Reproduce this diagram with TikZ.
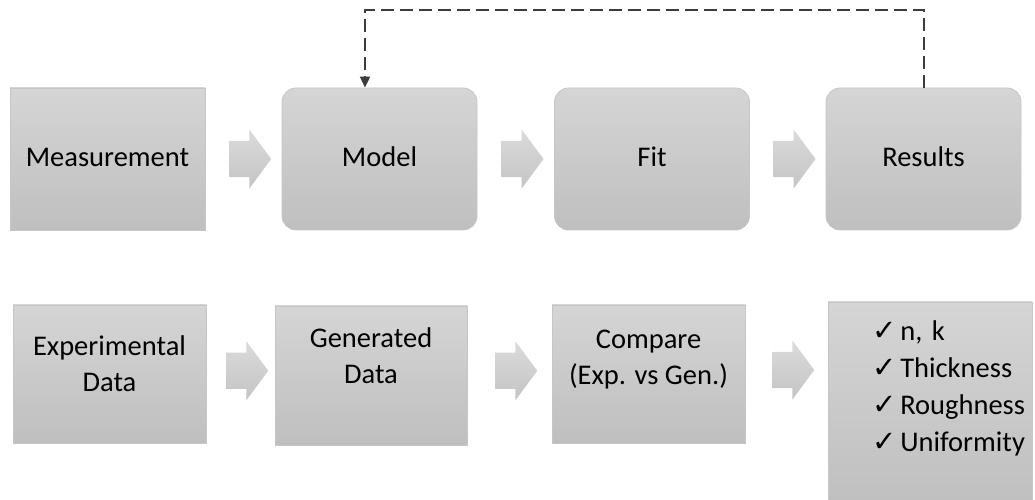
\documentclass[tikz,border=0pt]{standalone}
\usepackage{fontspec}
\setmainfont{Carlito}
\newfontfamily\symf{DejaVu Sans}
\usetikzlibrary{shapes.arrows,calc,arrows.meta}
\definecolor{boxtop}{RGB}{213,213,213}
\definecolor{boxbot}{RGB}{191,191,191}
\definecolor{boxline}{RGB}{198,198,198}
\definecolor{arrtop}{RGB}{219,219,219}
\definecolor{arrbot}{RGB}{196,196,196}
\definecolor{dashgray}{RGB}{60,60,60}
\newcommand{\chk}{{\symf\fontsize{29}{36}\selectfont ✓}\hspace{4pt}}

\begin{document}
\begin{tikzpicture}[x=1pt,y=1pt]
            \tikzstyle{every node}+=[inner sep=0pt, font=\fontsize{28.5}{36}\selectfont]
            \tikzstyle{blk}=[draw=boxline, line width=0.8pt, top color=boxtop, bottom color=boxbot, minimum width=195pt, minimum height=142pt, align=center, text height=20pt, text depth=4pt]
            \tikzstyle{rblk}=[blk, rounded corners=14pt]
            \tikzstyle{fat}=[single arrow, draw=none, top color=arrtop, bottom color=arrbot, minimum height=42pt, inner ysep=18pt, inner xsep=0pt, single arrow head extend=11.5pt, single arrow tip angle=107, single arrow head indent=0pt]
            \tikzstyle{fback}=[draw=dashgray, line width=2pt, dash pattern=on 13pt off 6pt, -{Triangle[length=11pt,width=10pt]}]
            \useasboundingbox (0,0) rectangle (1035,500);
            \node [blk] (meas) at (107.5,341) {Measurement};
            \node [rblk] (model) at (379.5,341) {Model};
            \node [rblk] (fit) at (652,341) {Fit};
            \node [rblk] (res) at (923.5,341) {Results};
            \node [fat] (a1) at ($(meas.east)!0.5!(model.west)$) {};
            \node [fat] (a2) at ($(model.east)!0.5!(fit.west)$) {};
            \node [fat] (a3) at ($(fit.east)!0.5!(res.west)$) {};
            \draw [fback] (res.north) -- ++(0,78) -| ([xshift=-14.5pt]model.north);
            \node [blk, minimum width=193pt, minimum height=138pt, text height=40pt, text depth=4pt] (exp) at (109.5,126) {Experimental\\Data};
            \node [blk, minimum width=192pt, minimum height=139pt, text height=20pt, text depth=3pt] (gen) at (371,124.5) {Generated\\Data};
            \node [blk, minimum width=193pt, minimum height=138pt, text height=24pt, text depth=2pt] (cmp) at (648.5,126) {Compare\\(Exp. vs Gen.)};
            \node [blk, minimum width=204pt, minimum height=206pt, text width=116pt, align=left, text height=20pt, text depth=148pt, font=\fontsize{28.5}{36.7}\selectfont] (lst) at (930,95) {\mbox{\chk n, k}\\\mbox{\chk Thickness}\\\mbox{\chk Roughness}\\\mbox{\chk Uniformity}};
            \node [fat] (b1) at ($(exp.east)!0.5!(gen.west)+(0,4)$) {};
            \node [fat] (b2) at ($(gen.east)!0.5!(cmp.west)+(0,4)$) {};
            \node [fat] (b3) at ($(cmp.east)!0.5!(lst.west)+(0,19.5)$) {};
        \end{tikzpicture}
\end{document}
